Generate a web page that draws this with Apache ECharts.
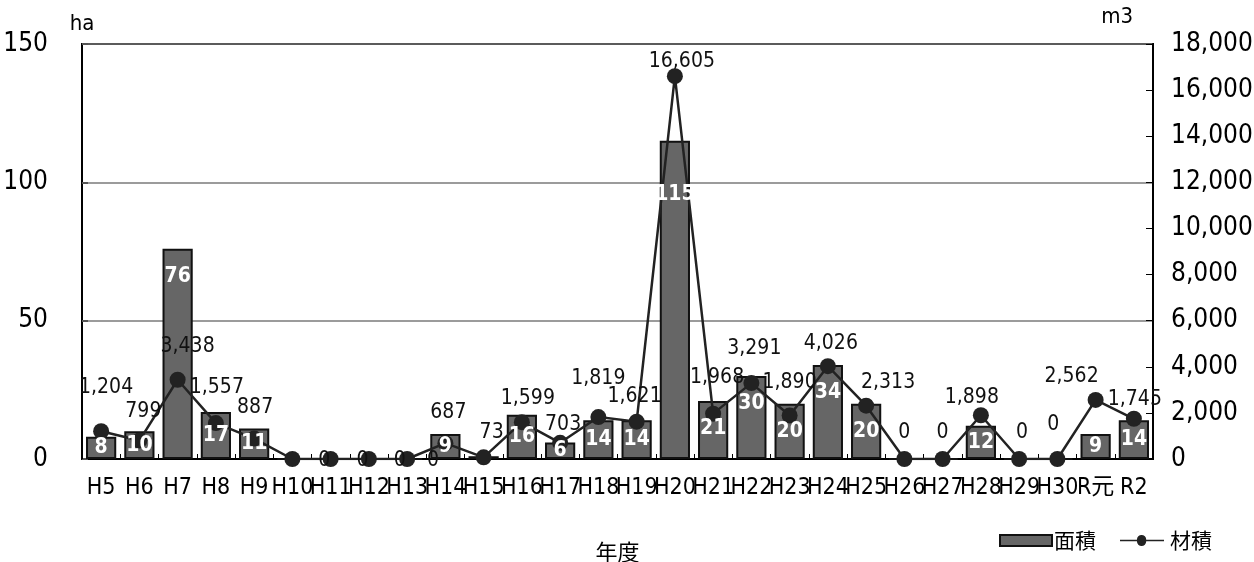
<!DOCTYPE html>
<html>
<head>
<meta charset="utf-8">
<script src="https://cdn.jsdelivr.net/npm/echarts@6/dist/echarts.min.js"></script>
<style>html,body{margin:0;padding:0;background:#fff;}#c{width:1254px;height:562px;}</style>
</head>
<body>
<div id="c"></div>
<script>
// ---- data ----
const categories = ['H5','H6','H7','H8','H9','H10','H11','H12','H13','H14','H15','H16','H17','H18','H19','H20','H21','H22','H23','H24','H25','H26','H27','H28','H29','H30','R元','R2'];
const areaHa = [8,10,76,17,11,0,0,0,0,9,1,16,6,14,14,115,21,30,20,34,20,0,0,12,0,0,9,14];
const volumeM3 = [1204,799,3438,1557,887,0,0,0,0,687,73,1599,703,1819,1621,16605,1968,3291,1890,4026,2313,0,0,1898,0,0,2562,1745];
const leftTicks = {min:0, max:150, interval:50};
const rightTicks = {min:0, max:18000, interval:2000};
const seriesNames = ['面積','材積'];
const axisNames = {left:'ha', right:'m3', x:'年度'};

// ---- styling (label placements) ----
const volLabelOffsets = [[5,-44],[4,-29],[10,-33],[1,-36],[1,-31],[32,2],[32,2],[31,2],[26,2],[3,-31],[8,-25],[6,-24],[3,-18],[0,-39],[-2,-25],[7,-15],[4,-36],[3,-35],[0,-33],[3,-23],[22,-23],[0,-26],[0,-26],[-9,-18],[3,-26],[-4,-34],[-24,-23],[1,-19]];

const NUM_FONT = '"Liberation Sans Narrow","DejaVu Sans Condensed","Liberation Sans","Noto Sans CJK JP",sans-serif';
const CJK_FONT = '"Noto Sans CJK JP","Noto Sans",sans-serif';
const LINE_ICON = 'path://M0,4.5 L20,4.5 A5.5,5.5 0 0,1 31,4.5 L52,4.5 L52,6.5 L31,6.5 A5.5,5.5 0 0,1 20,6.5 L0,6.5 Z';

function fmt(v){ return v.toString().replace(/\B(?=(\d{3})+(?!\d))/g, ','); }

const barLabelData = areaHa.map(function(v){
  let label;
  if (v < 2) label = {show:false};
  else if (v >= 19) label = {show:true, position:'insideTop', distance:17, offset: v > 100 ? [0, 26] : [0, 0]};
  else label = {show:true, position:'inside'};
  return {value:v, label:label};
});

const lineData = volumeM3.map(function(v, i){
  return {value:v, label:{show:true, position:'inside', offset:volLabelOffsets[i]}};
});

const chart = echarts.init(document.getElementById('c'), null, {renderer:'canvas'});
chart.setOption({
  animation:false,
  backgroundColor:'#fff',
  grid:{left:82, right:101, top:44, bottom:103, show:true, borderColor:'#000', borderWidth:2, backgroundColor:'transparent', containLabel:false, outerBoundsMode:'none'},
  legend:{
    right:37, bottom:6, itemWidth:52, itemHeight:11, itemGap:24,
    textStyle:{fontFamily:CJK_FONT, fontSize:21, color:'#000', padding:[0,0,0,-3]},
    data:[{name:seriesNames[0], icon:'rect'}, {name:seriesNames[1], icon:LINE_ICON, itemStyle:{color:'#222', borderWidth:0}}]
  },
  xAxis:{
    type:'category', data:categories,
    name:axisNames.x, nameLocation:'middle', nameGap:82,
    nameTextStyle:{fontFamily:CJK_FONT, fontSize:22, color:'#000'},
    axisLine:{lineStyle:{color:'#000', width:2}},
    axisTick:{show:true, inside:true, length:5, lineStyle:{color:'#000', width:1}},
    axisLabel:{fontFamily:NUM_FONT, fontSize:23, color:'#000', margin:18, interval:0},
    splitLine:{show:false}
  },
  yAxis:[{
    type:'value', position:'left', min:leftTicks.min, max:leftTicks.max, interval:leftTicks.interval,
    name:axisNames.left, nameLocation:'end', nameGap:9,
    nameTextStyle:{fontFamily:NUM_FONT, fontSize:22, color:'#000', align:'center'},
    axisLine:{show:true, lineStyle:{color:'#000', width:2}},
    axisTick:{show:true, inside:true, length:6, lineStyle:{color:'#555', width:2}},
    axisLabel:{fontFamily:NUM_FONT, fontSize:26, color:'#000', margin:34},
    splitLine:{show:true, lineStyle:{color:'#7a7a7a', width:1.5}}
  },{
    type:'value', position:'right', min:rightTicks.min, max:rightTicks.max, interval:rightTicks.interval,
    name:axisNames.right, nameLocation:'end', nameGap:16,
    nameTextStyle:{fontFamily:NUM_FONT, fontSize:22, color:'#000', align:'right', padding:[0,20,0,0]},
    axisLine:{show:true, lineStyle:{color:'#000', width:2}},
    axisTick:{show:true, inside:true, length:7, lineStyle:{color:'#000', width:1}},
    axisLabel:{fontFamily:NUM_FONT, fontSize:26, color:'#000', margin:18, formatter:function(v){return fmt(v);}},
    splitLine:{show:false}
  }],
  series:[{
    name:seriesNames[0], type:'bar', yAxisIndex:0, data:areaHa,
    barCategoryGap:'21%',
    itemStyle:{color:'#666666', borderColor:'#111', borderWidth:2},
    label:{show:false},
    z:2
  },{
    name:seriesNames[1], type:'line', yAxisIndex:1, data:lineData,
    symbol:'circle', symbolSize:16,
    lineStyle:{color:'#222', width:2.5},
    itemStyle:{color:'#222'},
    label:{color:'#111', fontFamily:NUM_FONT, fontSize:21, formatter:function(p){return fmt(p.value);}},
    z:5
  },{
    name:'面積ラベル', type:'bar', yAxisIndex:0, data:barLabelData,
    barGap:'-100%', barCategoryGap:'21%',
    itemStyle:{color:'rgba(0,0,0,0)', borderWidth:0},
    label:{color:'#fff', fontFamily:NUM_FONT, fontSize:21, fontWeight:'bold', formatter:function(p){return fmt(p.value);}},
    silent:true,
    z:10
  }]
});
</script>
</body>
</html>
